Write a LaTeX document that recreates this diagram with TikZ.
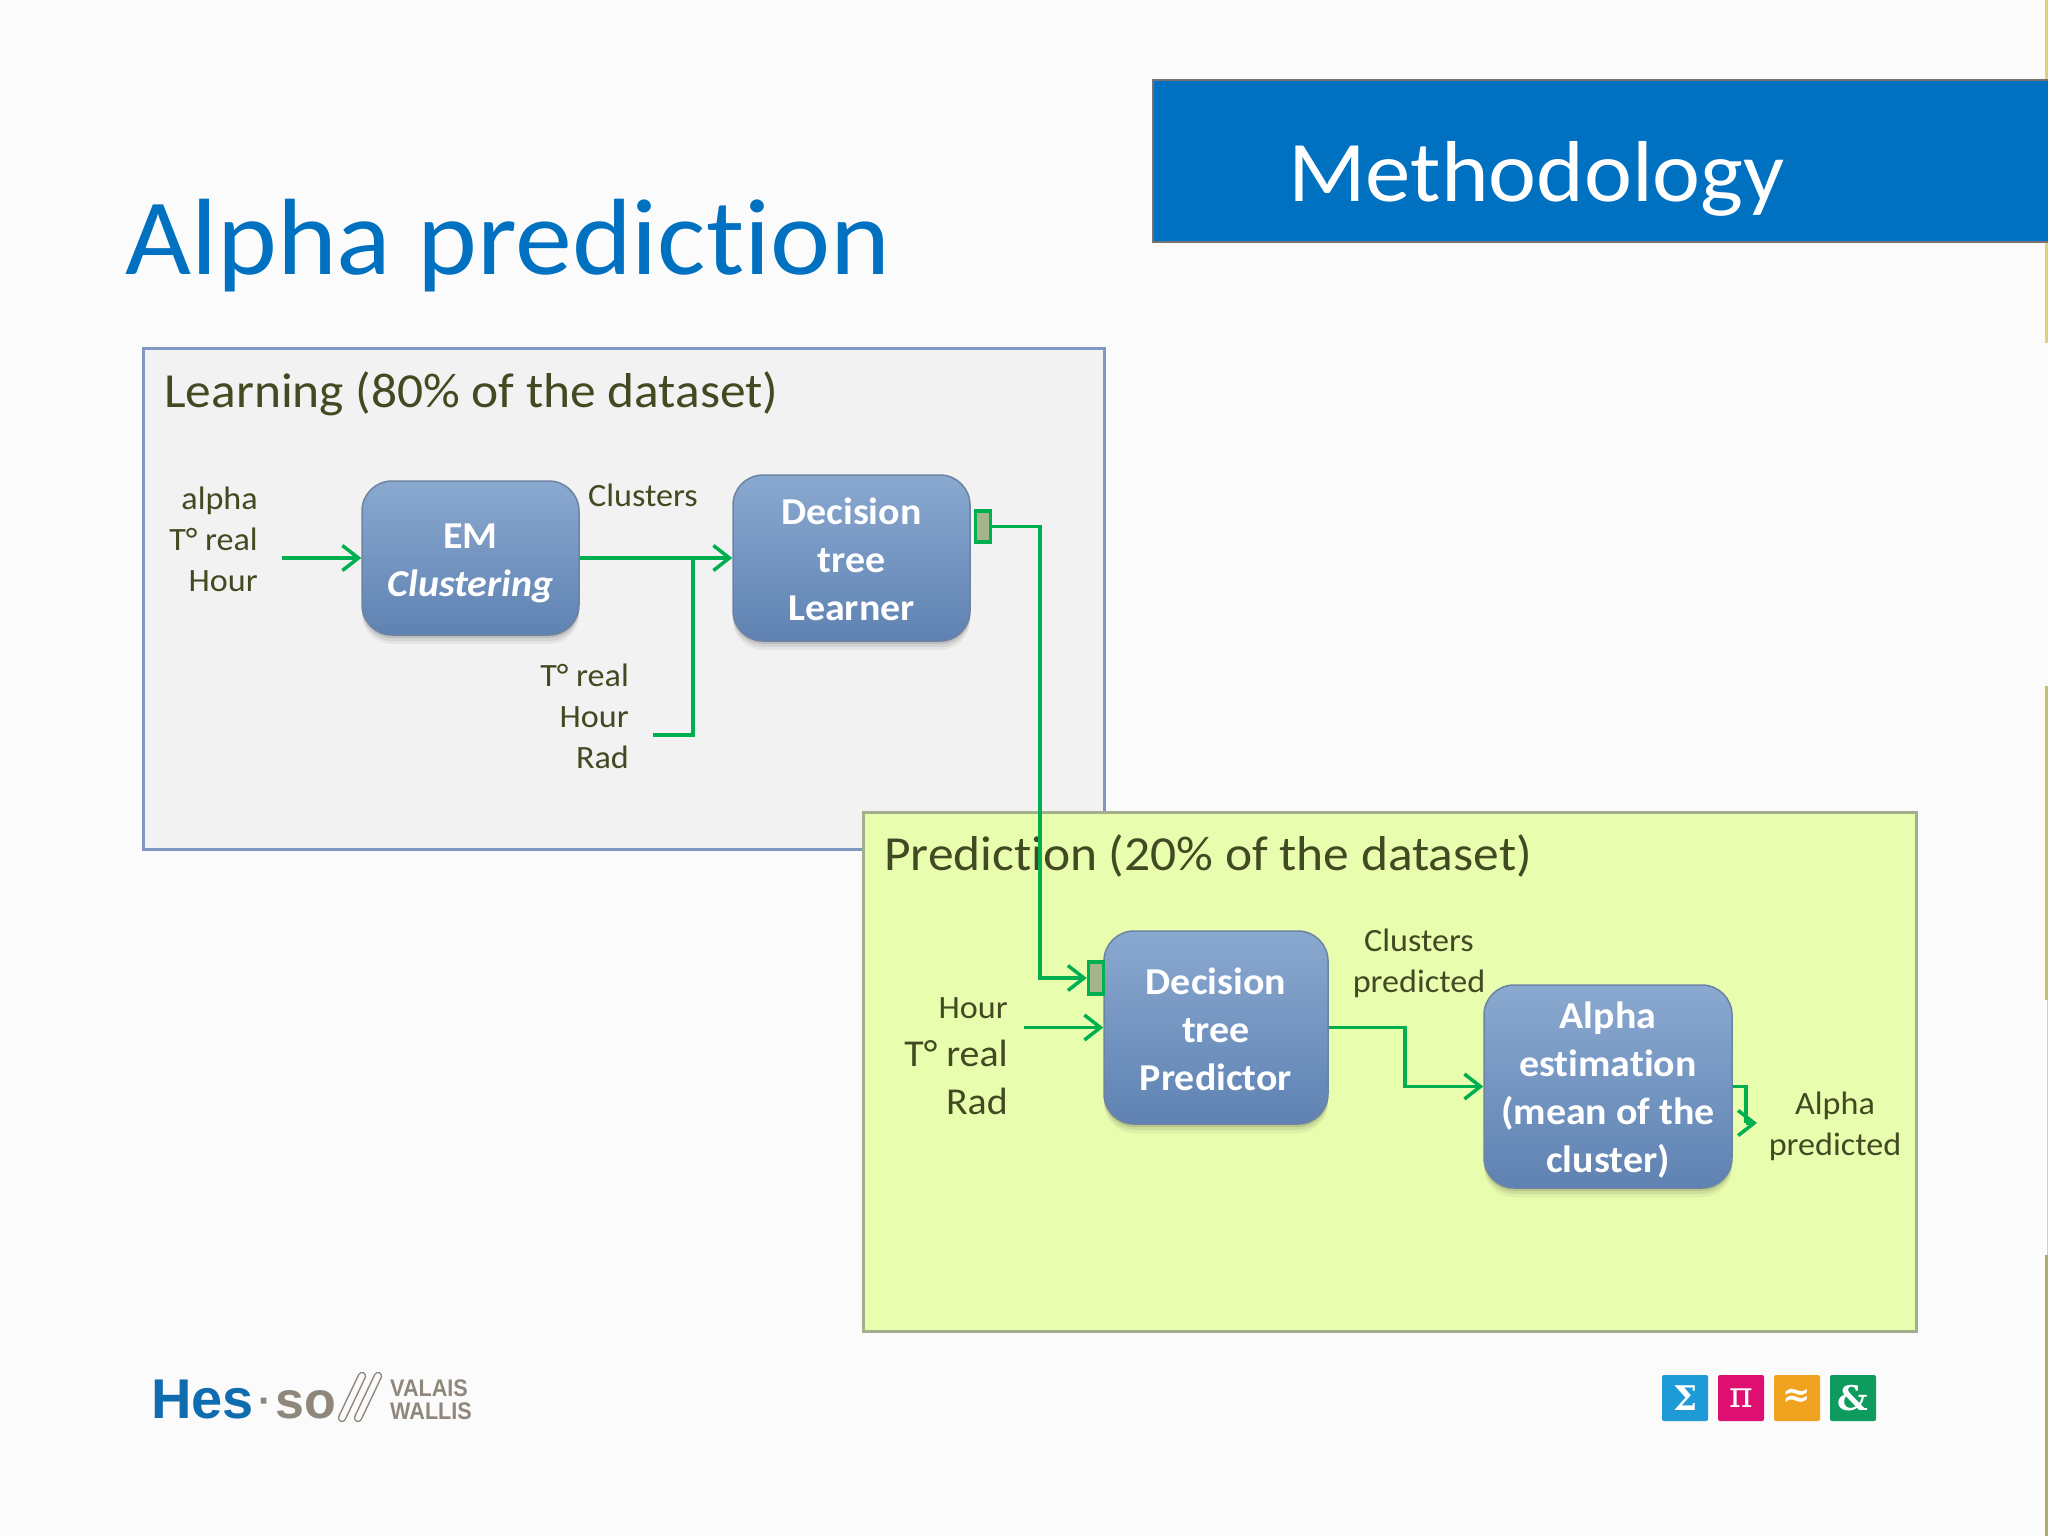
\documentclass[tikz,border=0pt]{standalone}
\usepackage{fontspec}
\setmainfont[Ligatures=NoCommon,FakeStretch=1.05]{Carlito}
\newfontfamily\logofont{Liberation Sans}
\newfontfamily\logotight[FakeStretch=.9]{Liberation Sans}
\newfontfamily\symfont{DejaVu Serif}
\usetikzlibrary{arrows.meta}
\definecolor{bluebar}{HTML}{0070C0}
\definecolor{lnk}{HTML}{00B050}
\definecolor{txtol}{HTML}{424A22}
\definecolor{boxtop}{HTML}{8AA9D0}
\definecolor{boxbot}{HTML}{5F82B2}
\definecolor{boxedge}{HTML}{6D83A3}
\definecolor{logoblue}{HTML}{0F6CAE}
\definecolor{logogray}{HTML}{8F877B}
\definecolor{panelA}{HTML}{F2F2F2}
\definecolor{panelAedge}{HTML}{8098C4}
\definecolor{panelB}{HTML}{E9FDAF}
\definecolor{panelBedge}{HTML}{A3AF8C}
\definecolor{accent}{HTML}{DCD276}
\definecolor{accentB}{HTML}{C4C26C}
\definecolor{portfill}{HTML}{A4B48C}
\definecolor{tileA}{HTML}{1E9BD7}
\definecolor{tileB}{HTML}{DE0F70}
\definecolor{tileC}{HTML}{F0A31E}
\definecolor{tileD}{HTML}{0F9A5E}
\newcommand{\fsz}[1]{\fontsize{#1}{#1}\selectfont}
\tikzset{
 x=1pt,y=-1pt,
 procbox/.style={rounded corners=30pt,draw=boxedge,line width=1.5pt,top color=boxtop,bottom color=boxbot,
   text=white,align=center,font=\fsz{38}\bfseries,inner sep=0pt,
   preaction={fill=black,fill opacity=.05,transform canvas={yshift=-9pt}},
   preaction={fill=black,fill opacity=.07,transform canvas={yshift=-6pt}},
   preaction={fill=black,fill opacity=.10,transform canvas={yshift=-3pt}}},
 lbl/.style={text=txtol,inner sep=0pt,font=\fsz{32.5}},
 wire/.style={draw=lnk,line width=3.5pt},
 arr/.style={wire,-{Straight Barb[length=16pt,width=25pt,line width=3.5pt]}},
 port/.style={draw=lnk,line width=3.5pt,fill=portfill,inner sep=0pt},
 panel/.style={line width=2.5pt},
 tile/.style={rounded corners=2pt,inner sep=0pt,minimum width=46pt,minimum height=46pt,text=white,font=\symfont\fsz{34}\bfseries},
 clip line/.style={line cap=round,line width=8.5pt,draw=logogray},
 clip inner/.style={line cap=round,line width=5.5pt,draw=white!98!black},
}
\begin{document}
\begin{tikzpicture}
\useasboundingbox (0,0) rectangle (2048,1536);
\fill[white!98.5!black] (0,0) rectangle (2048,1536);
% accent line at right edge
\fill[accent] (2045,0) rectangle (2048,343);
\fill[accentB] (2045,686) rectangle (2048,1000);
\fill[accentB!70!white] (2046.5,1000) rectangle (2048,1255);
\fill[accentB!90!black] (2045,1255) rectangle (2048,1536);
% title bar
\node[fill=bluebar,draw=gray!90!black,line width=2pt,minimum width=898pt,minimum height=162pt,anchor=north west,inner sep=0pt] (bar) at (1152,79) {};
\node[text=white,font=\fsz{86.5},inner sep=0pt,anchor=base west] (meth) at (1288,201) {Methodology};
\node[text=bluebar,font=\fsz{108.5},inner sep=0pt,anchor=base west] (title) at (125,274) {Alpha prediction};
% panels
\node[panel,draw=panelAedge,fill=panelA,minimum width=961pt,minimum height=501pt,anchor=north west,inner sep=0pt] (learn) at (142,347) {};
\node[lbl,font=\fsz{49},anchor=base west] (learnt) at (164,407) {Learning (80\% of the dataset)};
\node[panel,draw=panelBedge,fill=panelB,minimum width=1053pt,minimum height=519pt,anchor=north west,inner sep=0pt] (pred) at (862,811) {};
\node[lbl,font=\fsz{49},anchor=base west] (predt) at (884,870) {Prediction (20\% of the dataset)};
% process boxes
\node[procbox,minimum width=217pt,minimum height=154pt] (em) at (470.5,558) {\rule{0pt}{36pt}EM\\[10pt]\textit{Clustering}};
\node[procbox,minimum width=237pt,minimum height=166pt] (dtl) at (851.5,558) {\rule{0pt}{30pt}Decision\\[10pt]tree\\[10pt]Learner};
\node[procbox,minimum width=224pt,minimum height=193pt] (dtp) at (1216,1027.5) {\rule{0pt}{30pt}Decision\\[10pt]tree\\[10pt]Predictor};
\node[procbox,minimum width=248pt,minimum height=203pt] (ae) at (1608,1086.5) {\rule{0pt}{34pt}Alpha\\[10pt]estimation\\[10pt](mean of the\\[10pt]cluster)};
% ports
\node[port,minimum width=15pt,minimum height=31pt] (p1) at (983,526.5) {};
\node[port,minimum width=15pt,minimum height=32pt] (p2) at (1096,978) {};
% labels
\node[lbl,align=right,anchor=east] (inA) at (258,539) {alpha\\[8.5pt]T° real\\[8.5pt]Hour};
\node[lbl,anchor=base] (cl) at (643,506) {Clusters};
\node[lbl,align=right,anchor=east] (inB) at (629,716) {T° real\\[8.5pt]Hour\\[8.5pt]Rad};
\node[lbl,align=right,anchor=base east] (h3) at (1008,1018) {Hour};
\node[lbl,font=\fsz{38},anchor=base east] (t3) at (1008,1066) {T° real};
\node[lbl,font=\fsz{38},anchor=base east] (r3) at (1008,1114) {Rad};
\node[lbl,align=center,anchor=center] (cp) at (1419,963.5) {Clusters\\[8.5pt]predicted};
\node[lbl,align=center,anchor=center] (ap) at (1835,1126.5) {Alpha\\[8.5pt]predicted};
% connector ends
\coordinate (a0) at (282,558);
\coordinate (b0) at (653,735);
\coordinate (c0) at (1024,1027.5);
\coordinate (apin) at (1757,1123);
% connectors
\draw[arr] (a0) -- (em.west);
\draw[arr] (em.east) -- (dtl.west);
\draw[wire] (b0) -- (693,735) -- (693,558);
\draw[arr] (p1.east) -- (1040,526.5) -- (1040,978) -- (p2.west);
\draw[arr] (c0) -- (dtp.west);
\draw[arr] (dtp.east) -- (1405,1027.5) -- (1405,1086.5) -- (ae.west);
\draw[wire] (ae.east) -- (1746,1086.5) -- (1746,1123);
\draw[arr] (1746,1123) -- (apin);
% logo left
\node[text=logoblue,font=\logofont\fsz{56}\bfseries,inner sep=0pt,anchor=base west] (hes) at (151,1418) {Hes};
\node[text=logogray,font=\logofont\fsz{40}\bfseries,inner sep=0pt,anchor=base west] (dot) at (258,1414) {·};
\node[text=logogray,font=\logofont\fsz{52}\bfseries,inner sep=0pt,anchor=base west] (so) at (275,1418) {so};
\draw[clip line] (342,1418) -- (362,1376);
\draw[clip inner] (342,1418) -- (362,1376);
\draw[clip line] (358,1418) -- (378,1376);
\draw[clip inner] (358,1418) -- (378,1376);
\node[text=logogray,font=\logotight\fsz{24}\bfseries,inner sep=0pt,anchor=base west] (va) at (390,1396) {VALAIS};
\node[text=logogray,font=\logotight\fsz{24}\bfseries,inner sep=0pt,anchor=base west] (wa) at (390,1419) {WALLIS};
% logo right
\node[tile,fill=tileA] (t1) at (1685,1398) {Σ};
\node[tile,fill=tileB,font=\symfont\fsz{36}] (t2) at (1741,1398) {π};
\node[tile,fill=tileC] (t3b) at (1797,1398) {≈};
\node[tile,fill=tileD] (t4) at (1853,1398) {\&};
\end{tikzpicture}
\end{document}
